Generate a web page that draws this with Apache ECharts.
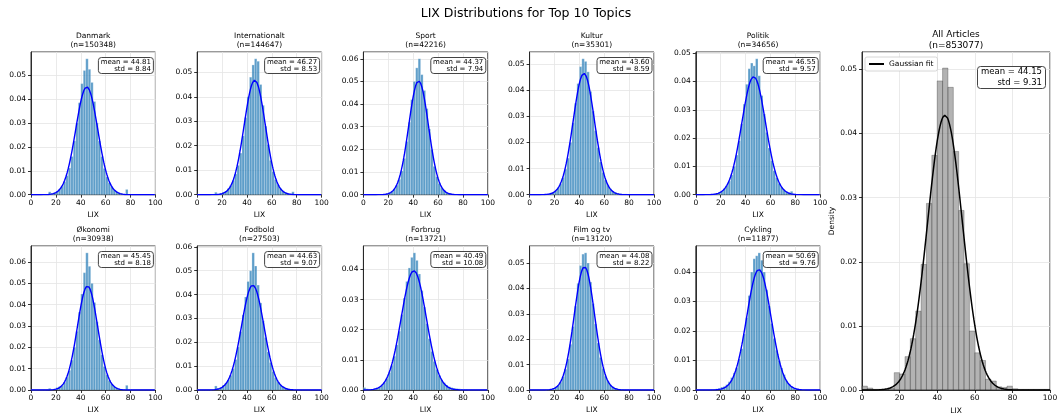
<!DOCTYPE html>
<html><head><meta charset="utf-8">
<script src="https://cdn.jsdelivr.net/npm/echarts@6/dist/echarts.min.js"></script>
<style>html,body{margin:0;padding:0;background:#fff}#c{width:1057px;height:413px}</style>
</head><body><div id="c"></div>
<script>
// ---------- DATA ----------
const topics = ['Danmark','Internationalt','Sport','Kultur','Politik','Økonomi','Fodbold','Forbrug','Film og tv','Cykling'];
const counts = [150348,144647,42216,35301,34656,30938,27503,13721,13120,11877];
const means  = [44.81,46.27,44.37,43.60,46.55,45.45,44.63,40.49,44.08,50.69];
const stds   = [8.84,8.53,7.94,8.59,9.57,8.18,9.07,10.08,8.22,9.76];
const xTicks = [0,20,40,60,80,100];
const topicBinWidth = 2;   // LIX units, bins start at 0
// density per bin (bins 0-2, 2-4, ..., 98-100)
const histDanmark = [0.0003,0.0001,0.0001,0.0001,0.0001,0.0001,0.0003,0.0012,0.0004,0.0008,0.0012,0.0022,0.0035,0.0055,0.0080,0.0112,0.0160,0.0225,0.0300,0.0385,0.0465,0.0520,0.0569,0.0525,0.0470,0.0390,0.0300,0.0225,0.0160,0.0110,0.0075,0.0050,0.0033,0.0020,0.0013,0.0008,0.0005,0.0003,0.0022,0.0002,0.0001,0.0001,0.0001,0.0001,0.0001,0.0001,0.0001,0.0001,0.0001,0.0001];
const histInternationalt = [0.0002,0.0001,0.0001,0.0001,0.0001,0.0001,0.0003,0.0010,0.0003,0.0005,0.0010,0.0015,0.0025,0.0038,0.0058,0.0085,0.0120,0.0170,0.0240,0.0315,0.0400,0.0480,0.0530,0.0555,0.0545,0.0450,0.0365,0.0280,0.0205,0.0140,0.0095,0.0062,0.0040,0.0026,0.0016,0.0009,0.0005,0.0004,0.0012,0.0002,0.0001,0.0001,0.0001,0.0001,0.0001,0.0001,0.0001,0.0001,0.0001,0.0001];
const histSport = [0.0001,0.0001,0.0001,0.0001,0.0001,0.0001,0.0001,0.0002,0.0003,0.0005,0.0009,0.0014,0.0025,0.0042,0.0068,0.0105,0.0160,0.0235,0.0320,0.0420,0.0500,0.0560,0.0600,0.0530,0.0460,0.0380,0.0290,0.0200,0.0125,0.0080,0.0050,0.0030,0.0018,0.0010,0.0006,0.0004,0.0003,0.0002,0.0002,0.0001,0.0001,0.0001,0.0001,0.0001,0.0001,0.0001,0.0001,0.0001,0.0001,0.0001];
const histKultur = [0.0001,0.0001,0.0001,0.0001,0.0001,0.0001,0.0002,0.0003,0.0004,0.0009,0.0015,0.0026,0.0042,0.0066,0.0098,0.0140,0.0200,0.0275,0.0350,0.0425,0.0490,0.0520,0.0510,0.0470,0.0395,0.0320,0.0245,0.0180,0.0125,0.0085,0.0056,0.0036,0.0023,0.0014,0.0009,0.0006,0.0004,0.0003,0.0003,0.0002,0.0001,0.0001,0.0001,0.0001,0.0001,0.0001,0.0001,0.0001,0.0001,0.0001];
const histPolitik = [0.0001,0.0001,0.0001,0.0001,0.0001,0.0001,0.0002,0.0003,0.0004,0.0008,0.0013,0.0021,0.0032,0.0048,0.0070,0.0100,0.0140,0.0190,0.0250,0.0320,0.0390,0.0445,0.0465,0.0455,0.0480,0.0420,0.0350,0.0285,0.0220,0.0165,0.0120,0.0085,0.0060,0.0040,0.0027,0.0017,0.0011,0.0007,0.0012,0.0003,0.0001,0.0001,0.0001,0.0001,0.0001,0.0001,0.0001,0.0001,0.0001,0.0001];
const histOekonomi = [0.0001,0.0001,0.0001,0.0001,0.0001,0.0001,0.0002,0.0008,0.0003,0.0004,0.0012,0.0016,0.0022,0.0036,0.0060,0.0092,0.0140,0.0200,0.0275,0.0365,0.0450,0.0550,0.0643,0.0580,0.0500,0.0410,0.0320,0.0235,0.0165,0.0110,0.0072,0.0045,0.0028,0.0017,0.0010,0.0006,0.0004,0.0003,0.0022,0.0002,0.0001,0.0001,0.0001,0.0001,0.0001,0.0001,0.0001,0.0001,0.0001,0.0001];
const histFodbold = [0.0001,0.0001,0.0001,0.0001,0.0001,0.0001,0.0002,0.0017,0.0006,0.0010,0.0020,0.0028,0.0042,0.0062,0.0090,0.0128,0.0180,0.0245,0.0315,0.0390,0.0455,0.0500,0.0575,0.0520,0.0440,0.0365,0.0290,0.0220,0.0160,0.0115,0.0078,0.0052,0.0034,0.0021,0.0014,0.0009,0.0006,0.0004,0.0004,0.0002,0.0001,0.0001,0.0001,0.0001,0.0001,0.0001,0.0001,0.0001,0.0001,0.0001];
const histForbrug = [0.0008,0.0004,0.0003,0.0003,0.0004,0.0006,0.0010,0.0016,0.0025,0.0038,0.0058,0.0082,0.0112,0.0150,0.0195,0.0250,0.0305,0.0360,0.0405,0.0440,0.0455,0.0430,0.0385,0.0330,0.0275,0.0220,0.0170,0.0128,0.0095,0.0068,0.0048,0.0034,0.0024,0.0016,0.0011,0.0008,0.0006,0.0005,0.0004,0.0003,0.0002,0.0002,0.0001,0.0001,0.0001,0.0001,0.0001,0.0001,0.0001,0.0001];
const histFilm = [0.0001,0.0001,0.0001,0.0001,0.0001,0.0001,0.0001,0.0002,0.0003,0.0005,0.0010,0.0018,0.0031,0.0052,0.0082,0.0122,0.0180,0.0250,0.0330,0.0420,0.0490,0.0535,0.0540,0.0500,0.0425,0.0340,0.0260,0.0185,0.0128,0.0085,0.0055,0.0035,0.0021,0.0013,0.0008,0.0005,0.0004,0.0003,0.0002,0.0001,0.0001,0.0001,0.0001,0.0001,0.0001,0.0001,0.0001,0.0001,0.0001,0.0001];
const histCykling = [0.0001,0.0001,0.0001,0.0001,0.0001,0.0001,0.0002,0.0003,0.0004,0.0006,0.0010,0.0012,0.0018,0.0028,0.0042,0.0058,0.0075,0.0105,0.0140,0.0190,0.0245,0.0320,0.0400,0.0445,0.0455,0.0465,0.0440,0.0400,0.0340,0.0285,0.0225,0.0175,0.0135,0.0100,0.0075,0.0052,0.0032,0.0020,0.0012,0.0006,0.0004,0.0002,0.0001,0.0001,0.0001,0.0001,0.0001,0.0001,0.0001,0.0001];
const topicHists = [histDanmark,histInternationalt,histSport,histKultur,histPolitik,histOekonomi,histFodbold,histForbrug,histFilm,histCykling];

const allTitle = 'All Articles';
const allCount = 853077, allMean = 44.15, allStd = 9.31;
const allBinCount = 35;    // bins over 0..100
const histAll = [0.0006,0.0003,0.0001,0.0001,0.0001,0.0003,0.0027,0.0025,0.0052,0.0080,0.0123,0.0196,0.0291,0.0366,0.0482,0.0502,0.0472,0.0372,0.0280,0.0197,0.0092,0.0058,0.0046,0.0017,0.0014,0.0005,0.0004,0.0006,0.0002,0.0001,0.0001,0.0001,0.0001,0.0001,0.0001];

// ---------- CHART ----------
const F = 'DejaVu Sans';
const chart = echarts.init(document.getElementById('c'), null, {renderer:'canvas'});
const gaussPts = (m, s) => { const p = []; for (let k = 0; k <= 200; k++) { const x = k * 0.5; p.push([x, Math.exp(-0.5 * ((x - m) / s) ** 2) / (s * Math.sqrt(2 * Math.PI))]); } return p; };
const binData = (h, w) => h.map((v, i) => [i * w, (i + 1) * w, v]);
const yFmt = v => (Math.abs(v * 100 - Math.round(v * 100)) < 1e-6 ? v.toFixed(2) : '');

const grids = [], xAxes = [], yAxes = [], series = [], titles = [];
titles.push({text:'LIX Distributions for Top 10 Topics', left:526, top:7, textAlign:'center', textVerticalAlign:'top', padding:0,
  textStyle:{fontFamily:F, fontSize:12.5, fontWeight:'normal', color:'#000'}});

function addPanel(idx, left, top, w, h, hist, bw, mean, std, cnt, name, big) {
  const ymax = Math.max(...hist) * 1.05;
  grids.push({left, top, width:w, height:h, show:true, borderColor:'#000', borderWidth:0.8, backgroundColor:'transparent', containLabel:false, outerBoundsMode:'none'});
  const fs = 7.5;
  xAxes.push({type:'value', gridIndex:idx, min:0, max:100, interval:20,
    name:'LIX', nameLocation:'middle', nameGap: big ? 17 : 16.5, nameTextStyle:{fontFamily:F, fontSize:fs, color:'#000'},
    axisLine:{show:true, onZero:false, lineStyle:{color:'#000', width:0.8}},
    axisTick:{show:true, length:3, lineStyle:{color:'#000', width:0.8}},
    axisLabel:{fontFamily:F, fontSize:fs, color:'#000', margin:4.5},
    splitLine:{show:true, lineStyle:{color:'#e4e4e4', width:0.8}}});
  yAxes.push({type:'value', gridIndex:idx, min:0, max:ymax, interval:0.01,
    name: big ? 'Density' : '', nameLocation:'middle', nameRotate:90, nameGap:23, nameTextStyle:{fontFamily:F, fontSize:fs, color:'#000'},
    axisLine:{show:true, lineStyle:{color:'#000', width:0.8}},
    axisTick:{show:true, length:3, lineStyle:{color:'#000', width:0.8}},
    axisLabel:{fontFamily:F, fontSize:fs, color:'#000', margin:5, formatter:yFmt, showMaxLabel:false},
    splitLine:{show:true, lineStyle:{color:'#e4e4e4', width:0.8}}});
  series.push({type:'custom', xAxisIndex:idx, yAxisIndex:idx, data:binData(hist, bw), encode:{x:[0,1], y:2}, z:2,
    renderItem:(params, api) => {
      const p0 = api.coord([api.value(0), 0]), p1 = api.coord([api.value(1), api.value(2)]);
      return {type:'rect', shape:{x:p0[0], y:p1[1], width:p1[0]-p0[0], height:p0[1]-p1[1]},
        style: big ? {fill:'rgba(128,128,128,0.6)', stroke:'rgba(40,40,40,0.6)', lineWidth:0.5}
                   : {fill:'rgba(31,119,180,0.72)', stroke:'rgba(255,255,255,0.7)', lineWidth:0.35}};
    }});
  series.push({type:'line', name: big ? 'Gaussian fit' : ('fit ' + name), xAxisIndex:idx, yAxisIndex:idx, data:gaussPts(mean, std),
    showSymbol:false, symbol:'none', z:4, lineStyle:{color: big ? '#000' : '#0000ff', width: big ? 1.5 : 1.4}, itemStyle:{color: big ? '#000' : '#0000ff'}});
  titles.push({text: name + '\n(n=' + cnt + ')', left: left + w / 2, top: big ? top - 22.5 : top - 20, textAlign:'center', textVerticalAlign:'top', padding:0,
    textStyle:{fontFamily:F, fontSize: big ? 9 : 7.5, lineHeight: big ? 11 : 9, fontWeight:'normal', color:'#000'}});
  const pad = big ? [1,4,1,4] : [1,3,1,3];
  titles.push({text:'mean = ' + mean.toFixed(2) + '\nstd = ' + std.toFixed(2),
    left: left + w - (big ? 4 : 1.5) - pad[1] - pad[3], top: top + (big ? 14 : 5), textAlign:'right', textVerticalAlign:'top', padding:pad,
    backgroundColor:'rgba(255,255,255,0.85)', borderColor:'#444', borderWidth:1, borderRadius:3,
    textStyle:{fontFamily:F, fontSize: big ? 8.5 : 7, lineHeight: big ? 10.5 : 7.6, fontWeight:'normal', color:'#000'}});
}

topics.forEach((name, i) => {
  const r = Math.floor(i / 5), c = i % 5;
  const rowTop = [52, 246], rowH = [142.7, 144];
  addPanel(i, 31 + 166.2 * c, rowTop[r], 124.4, rowH[r], topicHists[i], topicBinWidth, means[i], stds[i], counts[i], name, false);
});
addPanel(10, 862, 52, 188, 338, histAll, 100 / allBinCount, allMean, allStd, allCount, allTitle, true);

chart.setOption({
  animation:false,
  backgroundColor:'#fff',
  title: titles,
  grid: grids, xAxis: xAxes, yAxis: yAxes, series,
  legend:{data:[{name:'Gaussian fit', icon:'rect'}], left:865, top:57, padding:[3,4,3,4], itemWidth:15, itemHeight:2, itemGap:4,
    borderColor:'#ccc', borderWidth:0.8, borderRadius:2, backgroundColor:'rgba(255,255,255,0.9)',
    textStyle:{fontFamily:F, fontSize:7.5, color:'#000'}, selectedMode:false}
});
</script></body></html>
